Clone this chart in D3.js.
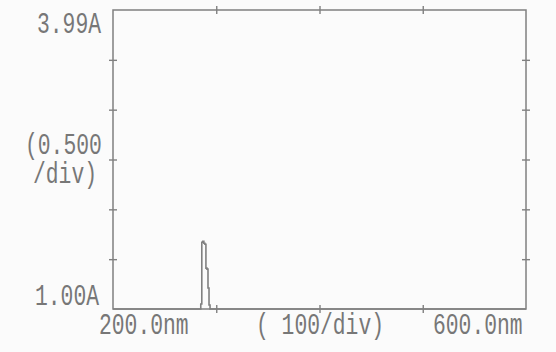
<!DOCTYPE html>
<html>
<head>
<meta charset="utf-8">
<script src="https://cdn.jsdelivr.net/npm/d3@7"></script>
<style>
  html, body { margin: 0; padding: 0; background: #fbfbfb; }
  svg { display: block; }
  text { font-family: "Liberation Mono", "DejaVu Sans Mono", monospace; fill: #777; }
</style>
</head>
<body>
<svg id="chart" width="556" height="352"></svg>
<script>
// Absorbance scan, 200–600 nm
const wavelengths = [200, 285, 286, 287, 288, 289, 290, 291, 292, 293, 294, 600];
const absorbance  = [1.00, 1.05, 1.67, 1.68, 1.66, 1.65, 1.41, 1.40, 1.21, 1.04, 1.00, 1.00];

const xDomain = [200, 600];
const yDomain = [1.00, 4.00];
const xTicks = [300, 400, 500];
const yTicks = [1.5, 2.0, 2.5, 3.0, 3.5];

const yTopLabel = "3.99A";
const yBottomLabel = "1.00A";
const yScaleLabel = ["(0.500", "/div)"];
const xLeftLabel = "200.0nm";
const xMidLabel = "( 100/div)";
const xRightLabel = "600.0nm";

const svg = d3.select("#chart");
const plotL = 113, plotR = 526, plotT = 10, plotB = 309;
const ink = "#808080";

const x = d3.scaleLinear().domain(xDomain).range([plotL, plotR]);
const y = d3.scaleLinear().domain(yDomain).range([plotB, plotT]);

// frame with crossing tick marks on all four sides
function crossTicks(g, horizontal) {
  g.select(".domain").remove();
  g.selectAll(".tick text").remove();
  g.selectAll(".tick line")
    .attr("stroke", ink).attr("stroke-width", 1.4)
    .each(function () {
      const l = d3.select(this);
      if (horizontal) l.attr("y1", -4).attr("y2", 4);
      else l.attr("x1", -4).attr("x2", 4);
    });
}
svg.append("g").attr("transform", `translate(${plotL},0)`)
  .call(d3.axisLeft(y).tickValues(yTicks)).call(g => crossTicks(g, false));
svg.append("g").attr("transform", `translate(${plotR},0)`)
  .call(d3.axisRight(y).tickValues(yTicks)).call(g => crossTicks(g, false));
svg.append("g").attr("transform", `translate(0,${plotB})`)
  .call(d3.axisBottom(x).tickValues(xTicks)).call(g => crossTicks(g, true));
svg.append("g").attr("transform", `translate(0,${plotT})`)
  .call(d3.axisTop(x).tickValues(xTicks)).call(g => crossTicks(g, true));

svg.append("rect")
  .attr("x", plotL).attr("y", plotT)
  .attr("width", plotR - plotL).attr("height", plotB - plotT)
  .attr("fill", "none").attr("stroke", ink).attr("stroke-width", 1.5);

// spectrum trace
const pts = wavelengths.map((w, i) => [w, absorbance[i]]);
svg.append("path")
  .datum(pts)
  .attr("fill", "none")
  .attr("stroke", ink)
  .attr("stroke-width", 1.6)
  .attr("d", d3.line().x(d => x(d[0])).y(d => y(d[1])).curve(d3.curveStepAfter));

// printer-style labels
const charW = 12.8;
const fontSize = 30;
function label(txt, px, py) {
  svg.append("text")
    .attr("x", px).attr("y", py)
    .attr("font-size", fontSize)
    .attr("textLength", txt.length * charW)
    .attr("lengthAdjust", "spacingAndGlyphs")
    .text(txt);
}
label(yTopLabel, 37, 33);
label(yBottomLabel, 35, 305);
label(xLeftLabel, 99, 334);
label(xMidLabel, 256, 334);
label(xRightLabel, 433, 334);

// two-line scale note on the left
const note = svg.append("text").attr("font-size", fontSize);
note.append("tspan").attr("x", 25).attr("y", 154)
  .attr("textLength", yScaleLabel[0].length * charW)
  .attr("lengthAdjust", "spacingAndGlyphs")
  .text(yScaleLabel[0]);
note.append("tspan").attr("x", 33).attr("y", 183)
  .attr("textLength", yScaleLabel[1].length * charW)
  .attr("lengthAdjust", "spacingAndGlyphs")
  .text(yScaleLabel[1]);
</script>
</body>
</html>
